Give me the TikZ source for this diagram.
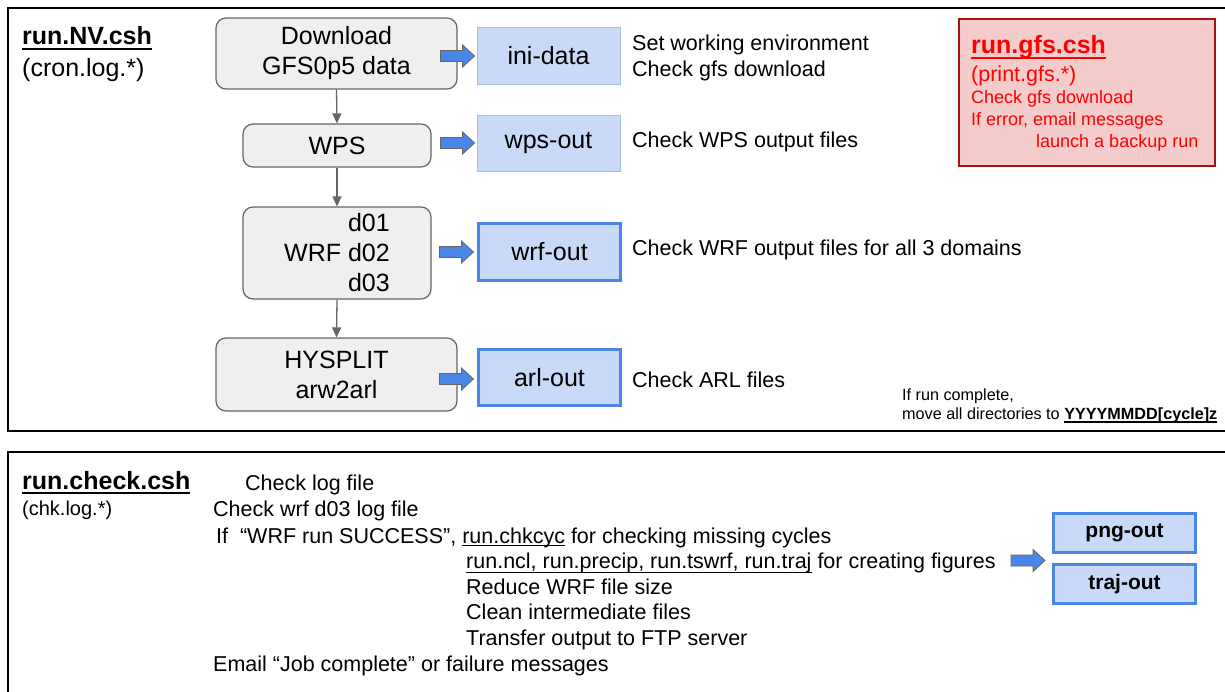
\documentclass[tikz,border=0pt]{standalone}
\usepackage{fontspec}
\setmainfont{Liberation Sans}
\usetikzlibrary{arrows.meta,calc}
\definecolor{procfill}{HTML}{EFEFEF}
\definecolor{procdraw}{HTML}{666666}
\definecolor{outfill}{HTML}{C9DAF8}
\definecolor{outdraw}{HTML}{4A86E8}
\definecolor{outthin}{HTML}{A9BFE3}
\definecolor{redfill}{HTML}{F4CCCC}
\definecolor{reddraw}{HTML}{A31515}
\definecolor{redtext}{HTML}{FF0000}
\newcommand{\fsz}[2]{\fontsize{#1}{#2}\selectfont}
\newsavebox\myulbox
% #1 thickness, #2 depth of lower edge below baseline, #3 text
\newcommand{\myul}[3]{\sbox\myulbox{#3}\rlap{\rule[-#2]{\wd\myulbox}{#1}}\usebox\myulbox}
\begin{document}
\begin{tikzpicture}[x=1pt,y=-1pt,
  frame/.style={draw=black,line width=2pt},
  proc/.style={draw=procdraw,fill=procfill,line width=1.2pt,rounded corners=10pt,
    align=center,inner sep=0pt,font=\fsz{25}{30}},
  outlight/.style={draw=outthin,fill=outfill,line width=0.8pt,inner sep=0pt,font=\fsz{25}{30}},
  outthick/.style={draw=outdraw,fill=outfill,line width=3pt,inner sep=0pt,font=\fsz{25}{30}},
  outbold/.style={outthick,font=\fsz{21}{25}\bfseries},
  txt/.style={anchor=base west,inner sep=0pt,font=\fsz{21.5}{26}},
  small/.style={anchor=base west,inner sep=0pt,font=\fsz{16.2}{19}},
  title/.style={anchor=base west,inner sep=0pt,font=\fsz{25}{30}\bfseries},
  redtxt/.style={anchor=base west,inner sep=0pt,text=redtext,font=\fsz{18}{22}},
  conn/.style={draw=procdraw,line width=1.3pt,-{Triangle[length=10pt,width=9pt]}},
  barrow/.pic={\draw[procdraw,fill=outdraw,line width=0.8pt]
    (-34,-5.5) -- (-12,-5.5) -- (-12,-11) -- (0,0) -- (-12,11) -- (-12,5.5) -- (-34,5.5) -- cycle;}
]
\clip (0,0) rectangle (1225,692);
\fill[white] (0,0) rectangle (1225,692);
% frames
\draw[frame] (8,8) rectangle (1245,431);
\draw[frame] (8,452) rectangle (1245,715);

% ---------- top section ----------
\node[title] (nvtitle) at (22,45) {\myul{2pt}{5pt}{run.NV.csh}};
\node[txt,font=\fsz{25}{30}] (nvlog) at (22,77) {(cron.log.*)};

\node[proc,minimum width=241,minimum height=71] (dl) at (336.5,53.5) {Download\\GFS0p5 data};
\node[proc,minimum width=188,minimum height=43] (wps) at (337,145.5) {WPS};
\node[proc,minimum width=188,minimum height=92,align=right] (wrf) at (337,253) {d01\\WRF d02\\d03};
\node[proc,minimum width=241,minimum height=73] (hys) at (336.5,374.5) {HYSPLIT\\arw2arl};

\draw[conn] (dl.south) -- (wps.north);
\draw[conn] (wps.south) -- (wrf.north);
\draw[conn] (wrf.south) -- (hys.north);

\node[outlight,minimum width=143,minimum height=57] (ini) at (548.5,55.5) {ini-data};
\node[outlight,minimum width=143,minimum height=56] (wpsout) at (548.5,143) {wps-out};
\node[outthick,minimum width=142,minimum height=57] (wrfout) at (549.5,252) {wrf-out};
\node[outthick,minimum width=142,minimum height=56] (arlout) at (549.5,377.5) {arl-out};

\pic at ($(ini.west)+(-2,0.5)$) {barrow};
\pic at ($(wpsout.west)+(-2,0)$) {barrow};
\pic at ($(wrfout.west)+(-3.5,0)$) {barrow};
\pic at ($(arlout.west)+(-3.5,1.5)$) {barrow};

\node[txt] (t1) at (632,51) {Set working environment};
\node[txt] (t2) at (632,77) {Check gfs download};
\node[txt] (t3) at (632,148) {Check WPS output files};
\node[txt] (t4) at (632,256) {Check WRF output files for all 3 domains};
\node[txt] (t5) at (632,387) {Check ARL files};

\node[small] (c1) at (902,400) {If run complete,};
\node[small] (c2) at (902,419) {move all directories to \textbf{\myul{1.3pt}{3.5pt}{YYYYMMDD[cycle]z}}};

% red box
\node[draw=reddraw,fill=redfill,line width=2.2pt,anchor=north west,
  minimum width=256,minimum height=147,inner sep=0pt] (gfsbox) at (958,18) {};
\node[title,text=redtext] (gfstitle) at (971,54) {\myul{2pt}{5pt}{run.gfs.csh}};
\node[redtxt,font=\fsz{21.5}{26}] (g1) at (971,82) {(print.gfs.*)};
\node[redtxt] (g2) at (971,104) {Check gfs download};
\node[redtxt] (g3) at (971,126) {If error, email messages};
\node[redtxt] (g4) at (1036,148) {launch a backup run};

% ---------- bottom section ----------
\node[title] (cktitle) at (22,489) {\myul{2pt}{5pt}{run.check.csh}};
\node[txt,font=\fsz{20}{24}] (cklog) at (22,515) {(chk.log.*)};

\node[txt] (b1) at (245,490) {Check log file};
\node[txt] (b2) at (213,516) {Check wrf d03 log file};
\node[txt] (b3) at (216,543) {If \ “WRF run SUCCESS”, \myul{1pt}{3pt}{run.chkcyc} for checking missing cycles};
\node[txt] (b4) at (466,568) {\myul{1pt}{5pt}{run.ncl, run.precip, run.tswrf, run.traj} for creating figures};
\node[txt] (b5) at (466,594) {Reduce WRF file size};
\node[txt] (b6) at (466,619) {Clean intermediate files};
\node[txt] (b7) at (466,645) {Transfer output to FTP server};
\node[txt] (b8) at (213,671) {Email “Job complete” or failure messages};

\node[outbold,minimum width=142,minimum height=39] (png) at (1124.5,533) {png-out};
\node[outbold,minimum width=142,minimum height=39] (traj) at (1124.5,584) {traj-out};
\coordinate (figtip) at ($(png.south west)!0.5!(traj.north west)+(-7,2)$);
\pic at (figtip) {barrow};
\end{tikzpicture}
\end{document}
